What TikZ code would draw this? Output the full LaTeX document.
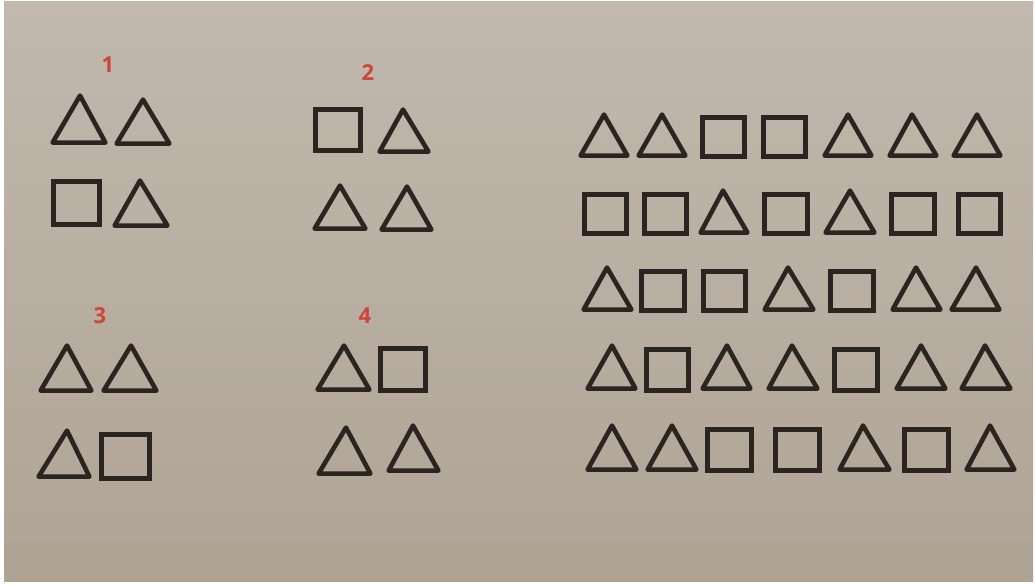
\documentclass[tikz,border=0pt]{standalone}
\usepackage{fontspec}
\setmainfont{Open Sans}
\definecolor{paperTop}{HTML}{C1B9AE}
\definecolor{paperBot}{HTML}{AFA394}
\definecolor{ink}{HTML}{2A2520}
\definecolor{numred}{HTML}{CC4538}
\tikzset{
  shapeline/.style={draw=ink, line width=4.6pt, line join=round, line cap=round},
  numlabel/.style={text=numred, font=\fontsize{22}{22}\selectfont\bfseries, inner sep=0pt}
}
% triangle: left x, right x, apex x, top y, base y (outer extents, pixels)
\newcommand\drawtri[5]{\draw[shapeline] (#1+2.6,#5-2.4) -- (#2-2.6,#5-2.4) -- (#3,#4+2.6) -- cycle;}
% square: left x, right x, top y, bottom y (outer extents)
\newcommand\drawsq[4]{\draw[shapeline, line join=miter] (#1+2.3,#3+2.3) rectangle (#2-2.3,#4-2.3);}
\begin{document}
\begin{tikzpicture}[x=1pt,y=-1pt]
\useasboundingbox (0,0) rectangle (1035,585);
\fill[white] (0,0) rectangle (1035,585);
\shade[top color=paperTop, bottom color=paperBot] (4,2) rectangle (1033,581);
% labels
\node[numlabel] (n1) at (108,65) {1};
\node[numlabel] (n2) at (368,73) {2};
\node[numlabel] (n3) at (100,316) {3};
\node[numlabel] (n4) at (365,316) {4};
% group 1
\drawtri{50}{108}{80}{93}{145}
\drawtri{114}{172}{143}{97}{146}
\drawsq{51}{102}{179}{227}
\drawtri{112}{170}{140}{178}{228}
% group 2
\drawsq{313}{363}{107}{153}
\drawtri{377}{431}{403}{107}{154}
\drawtri{312}{368}{340}{183}{231}
\drawtri{379}{434}{407}{184}{232}
% group 3
\drawtri{38}{94}{67}{343}{393}
\drawtri{101}{159}{131}{343}{393}
\drawtri{36}{92}{67}{428}{479}
\drawsq{99}{152}{432}{481}
% group 4
\drawtri{315}{372}{344}{343}{392}
\drawsq{378}{428}{346}{393}
\drawtri{316}{373}{346}{425}{476}
\drawtri{386}{441}{413}{423}{473}
% grid row 1: T T S S T T T
\drawtri{578}{630}{604}{112}{158}
\drawtri{636}{688}{662}{112}{158}
\drawsq{700}{747}{115}{159}
\drawsq{761}{808}{115}{159}
\drawtri{822}{874}{848}{112}{158}
\drawtri{887}{939}{912}{112}{158}
\drawtri{951}{1003}{977}{112}{158}
% row 2: S S T S T S S
\drawsq{582}{629}{192}{236}
\drawsq{642}{689}{192}{236}
\drawtri{698}{750}{723}{188}{235}
\drawsq{762}{810}{192}{236}
\drawtri{823}{877}{850}{188}{235}
\drawsq{889}{937}{192}{236}
\drawsq{956}{1003}{192}{236}
% row 3: T S S T S T T
\drawtri{581}{634}{607}{265}{312}
\drawsq{639}{687}{269}{313}
\drawsq{701}{748}{269}{313}
\drawtri{762}{816}{788}{265}{312}
\drawsq{828}{876}{269}{313}
\drawtri{890}{943}{916}{265}{312}
\drawtri{949}{1002}{976}{265}{312}
% row 4: T S T T S T T
\drawtri{585}{638}{612}{343}{391}
\drawsq{644}{691}{347}{393}
\drawtri{700}{753}{727}{343}{391}
\drawtri{766}{820}{792}{343}{391}
\drawsq{832}{880}{347}{393}
\drawtri{894}{948}{921}{343}{391}
\drawtri{959}{1013}{985}{343}{391}
% row 5: T T S S T S T
\drawtri{585}{639}{612}{423}{472}
\drawtri{645}{699}{672}{423}{472}
\drawsq{705}{754}{427}{473}
\drawsq{773}{822}{427}{473}
\drawtri{837}{892}{863}{423}{472}
\drawsq{902}{951}{427}{473}
\drawtri{964}{1017}{990}{423}{472}
\end{tikzpicture}
\end{document}
